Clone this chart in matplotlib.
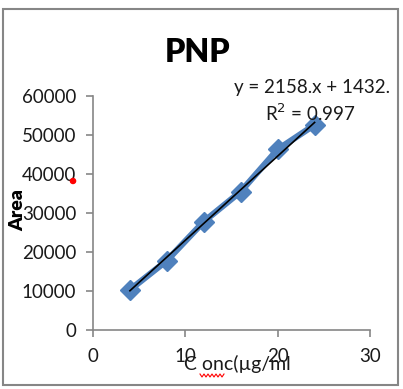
import numpy as np
import matplotlib
matplotlib.use('Agg')
import matplotlib.pyplot as plt
from matplotlib.patches import Rectangle, Circle
from matplotlib.lines import Line2D

plt.rcParams['font.family'] = ['Lato', 'DejaVu Sans']

conc = [4, 8, 12, 16, 20, 24]
area = [10300, 17800, 27800, 35500, 46300, 52600]
slope = 2158.0
intercept = 1432.0
x_ticks = [0, 10, 20, 30]
y_ticks = [0, 10000, 20000, 30000, 40000, 50000, 60000]

fig = plt.figure(figsize=(4.03, 3.89), dpi=100)
ax = fig.add_axes([93 / 403, 59 / 389, 277 / 403, 234 / 389])

grey = '#868686'
blue = '#4F81BD'

ax.plot(conc, area, color=blue, lw=4.5, marker='D', ms=10, mec=blue, mfc=blue,
        solid_capstyle='round', zorder=2)
fit_x = np.array([conc[0], conc[-1]])
ax.plot(fit_x, slope * fit_x + intercept, color='black', lw=1.2, zorder=3)

ax.set_xlim(0, 30)
ax.set_ylim(0, 60000)
ax.set_xticks(x_ticks)
ax.set_yticks(y_ticks)
for s in ['top', 'right']:
    ax.spines[s].set_visible(False)
for s in ['left', 'bottom']:
    ax.spines[s].set_color(grey)
    ax.spines[s].set_linewidth(1.2)
ax.tick_params(axis='both', colors=grey, labelcolor='#1a1a1a', labelsize=13.5,
               length=5, width=1.2)
ax.tick_params(axis='y', pad=7)
ax.tick_params(axis='x', pad=8)

fig.text(198 / 403, 1 - 52 / 389, 'PNP', ha='center', va='center',
         fontsize=23, fontweight='heavy')
fig.text(312 / 403, 1 - 88 / 389, 'y = 2158.x + 1432.', ha='center', va='center',
         fontsize=13.5, color='#1a1a1a')
fig.text(310 / 403, 1 - 113 / 389, 'R$^2$ = 0.997', ha='center', va='center',
         fontsize=13.5, color='#1a1a1a')
fig.text(18 / 403, 1 - 210 / 389, 'Area', ha='center', va='center', rotation=90,
         fontsize=14, fontweight='heavy')
fig.text(237 / 403, 1 - 364 / 389, 'C onc(µg/ml', ha='center', va='center',
         fontsize=14, color='#1a1a1a')

# spell-check squiggle under "onc"
zx = np.arange(200, 226, 2)
zy = np.where(np.arange(len(zx)) % 2 == 0, 374, 377)
fig.add_artist(Line2D(zx / 403, 1 - zy / 389, color='red', lw=0.8))

# stray red dot
fig.add_artist(Circle((73 / 403, 1 - 181 / 389), 2.6 / 403, color='red',
                      transform=fig.transFigure))

# chart border
fig.add_artist(Rectangle((3 / 403, 1 - 385 / 389), 395 / 403, 376 / 389,
                         fill=False, edgecolor=grey, lw=1.5,
                         transform=fig.transFigure))

fig.savefig('out.png', dpi=100)
